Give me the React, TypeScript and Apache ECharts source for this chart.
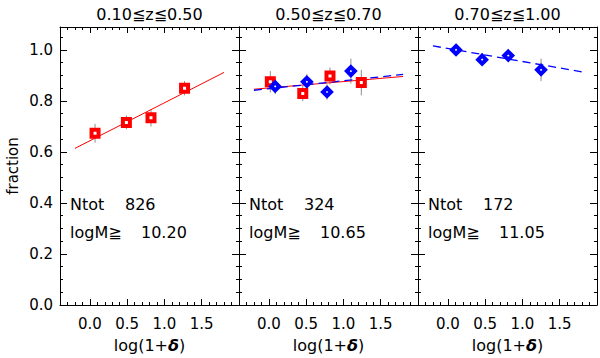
import { useEffect, useRef } from "react";
import * as echarts from "echarts";

const panelTitles = ["0.10≦z≦0.50", "0.50≦z≦0.70", "0.70≦z≦1.00"];
const nTotValues = ["826", "324", "172"];
const logMValues = ["10.20", "10.65", "11.05"];

const xMajorTicks = [0, 0.5, 1.0, 1.5];
const yMajorTicks = [0, 0.2, 0.4, 0.6, 0.8, 1.0];

// Panel 1 (red squares)
const p1RedX = [0.07, 0.49, 0.82, 1.27];
const p1RedY = [0.673, 0.716, 0.734, 0.85];
const p1RedErr = [0.037, 0.027, 0.034, 0.028];
const fitX = [-0.2, 1.8];
const p1RedFitY = [0.614, 0.912];

// Panel 2 (red squares + blue diamonds)
const p2RedX = [0.02, 0.455, 0.82, 1.24];
const p2RedY = [0.875, 0.829, 0.898, 0.872];
const p2RedErr = [0.042, 0.03, 0.033, 0.05];
const p2BlueX = [0.085, 0.51, 0.78, 1.1];
const p2BlueY = [0.857, 0.875, 0.835, 0.917];
const p2BlueErr = [0.03, 0.03, 0.03, 0.049];
const p2RedFitY = [0.846, 0.896];
const p2BlueFitY = [0.842, 0.904];

// Panel 3 (blue diamonds)
const p3BlueX = [0.11, 0.46, 0.81, 1.25];
const p3BlueY = [1.0, 0.962, 0.978, 0.922];
const p3BlueErr = [0.015, 0.025, 0.02, 0.044];
const p3BlueFitY = [1.016, 0.914];

const X_MIN = -0.4;
const X_MAX = 2.0;
const Y_MIN = 0;
const Y_MAX = 1.09;

const FONT = "DejaVu Sans";
const RED = "#ff0000";
const BLUE = "#0000ff";

function stepValues(from: number, to: number, step: number): number[] {
  const out: number[] = [];
  const n = Math.round((to - from) / step);
  for (let i = 0; i <= n; i++) out.push(Math.round((from + i * step) * 1000) / 1000);
  return out;
}
const xMinorTicks = stepValues(X_MIN, X_MAX, 0.1);
const yMinorTicks = stepValues(0, 1.05, 0.05);

const GRID_LEFT = 60;
const GRID_TOP = 27;
const GRID_W = 179;
const GRID_H = 278;

function xAxes(gi: number) {
  const base = (pos: string, ticks: number[], len: number, main: boolean, labels: boolean) => ({
    type: "value",
    gridIndex: gi,
    min: X_MIN,
    max: X_MAX,
    position: pos,
    axisLine: { show: main, onZero: false, lineStyle: { color: "#000", width: 1 } },
    axisTick: { show: true, inside: true, length: len, customValues: ticks, lineStyle: { color: "#000", width: 1 } },
    axisLabel: labels
      ? {
          show: true,
          customValues: xMajorTicks,
          formatter: (v: number) => v.toFixed(1),
          color: "#000",
          fontFamily: FONT,
          fontSize: 15,
          margin: 11,
        }
      : { show: false },
    splitLine: { show: false },
    ...(labels
      ? {
          name: "log(1+{d|δ})",
          nameLocation: "middle",
          nameGap: 32,
          nameTextStyle: {
            color: "#000",
            fontFamily: FONT,
            fontSize: 16,
            rich: { d: { fontFamily: FONT, fontSize: 16, fontStyle: "italic", fontWeight: "bold", color: "#000" } },
          },
        }
      : {}),
  });
  return [
    base("bottom", xMajorTicks, 6, true, true),
    base("bottom", xMinorTicks, 3, false, false),
    base("top", xMajorTicks, 6, true, false),
    base("top", xMinorTicks, 3, false, false),
  ];
}

function yAxes(gi: number) {
  const base = (pos: string, ticks: number[], len: number, main: boolean, labels: boolean) => ({
    type: "value",
    gridIndex: gi,
    min: Y_MIN,
    max: Y_MAX,
    position: pos,
    axisLine: { show: main, onZero: false, lineStyle: { color: "#000", width: 1 } },
    axisTick: { show: true, inside: true, length: len, customValues: ticks, lineStyle: { color: "#000", width: 1 } },
    axisLabel: labels
      ? {
          show: true,
          customValues: yMajorTicks,
          formatter: (v: number) => v.toFixed(1),
          color: "#000",
          fontFamily: FONT,
          fontSize: 15,
          margin: 7,
        }
      : { show: false },
    splitLine: { show: false },
    ...(labels
      ? {
          name: "fraction",
          nameLocation: "middle",
          nameGap: 40,
          nameTextStyle: { color: "#000", fontFamily: FONT, fontSize: 15 },
        }
      : {}),
  });
  const showLabels = gi === 0;
  return [
    base("left", yMajorTicks, 7, true, showLabels),
    base("left", yMinorTicks, 3, false, false),
    base("right", yMajorTicks, 7, true, false),
    base("right", yMinorTicks, 3, false, false),
  ];
}

function errorBars(xs: number[], ys: number[], es: number[], gi: number) {
  return {
    type: "custom",
    xAxisIndex: gi * 4,
    yAxisIndex: gi * 4,
    silent: true,
    z: 1,
    data: xs.map((x, i) => [x, ys[i] - es[i], ys[i] + es[i]]),
    encode: { x: 0, y: [1, 2] },
    renderItem: (_p: any, api: any) => {
      const a = api.coord([api.value(0), api.value(1)]);
      const b = api.coord([api.value(0), api.value(2)]);
      return {
        type: "line",
        shape: { x1: a[0], y1: a[1], x2: b[0], y2: b[1] },
        style: { stroke: "#8c8c8c", lineWidth: 1 },
      };
    },
  };
}

function fitLine(ys: number[], gi: number, color: string, dashed: boolean) {
  return {
    type: "line",
    xAxisIndex: gi * 4,
    yAxisIndex: gi * 4,
    data: fitX.map((x, i) => [x, ys[i]]),
    showSymbol: false,
    silent: true,
    z: 2,
    lineStyle: { color, width: dashed ? 1.3 : 1, type: dashed ? [8, 5] : "solid" },
  };
}

function redSquares(xs: number[], ys: number[], gi: number) {
  return {
    type: "scatter",
    xAxisIndex: gi * 4,
    yAxisIndex: gi * 4,
    data: xs.map((x, i) => [x, ys[i]]),
    symbol: "rect",
    symbolSize: 7,
    z: 3,
    itemStyle: { color: "#ffffff", borderColor: RED, borderWidth: 4, opacity: 1 },
  };
}

function blueDiamonds(xs: number[], ys: number[], gi: number) {
  return {
    type: "scatter",
    xAxisIndex: gi * 4,
    yAxisIndex: gi * 4,
    data: xs.map((x, i) => [x, ys[i]]),
    symbol: "diamond",
    symbolSize: 8,
    z: 3,
    itemStyle: { color: "#ffffff", borderColor: BLUE, borderWidth: 4, opacity: 1 },
  };
}

export default function App() {
  const ref = useRef<HTMLDivElement>(null);
  useEffect(() => {
    if (!ref.current) return;
    const chart = echarts.init(ref.current, undefined, { renderer: "svg" });
    const grids = [0, 1, 2].map((i) => ({
      left: GRID_LEFT + i * GRID_W,
      top: GRID_TOP,
      width: GRID_W,
      height: GRID_H,
      containLabel: false,
    }));
    const graphics: any[] = [];
    [0, 1, 2].forEach((i) => {
      const left = GRID_LEFT + i * GRID_W;
      graphics.push({
        type: "text",
        x: left + GRID_W / 2,
        y: 14,
        style: { text: panelTitles[i], fill: "#000", font: `16px "${FONT}"`, textAlign: "center", textVerticalAlign: "middle" },
      });
      graphics.push({
        type: "text",
        x: left + 10,
        y: 204,
        style: { text: "Ntot", fill: "#000", font: `16px "${FONT}"`, textAlign: "left", textVerticalAlign: "middle" },
      });
      graphics.push({
        type: "text",
        x: left + 65,
        y: 204,
        style: { text: nTotValues[i], fill: "#000", font: `16px "${FONT}"`, textAlign: "left", textVerticalAlign: "middle" },
      });
      graphics.push({
        type: "text",
        x: left + 10,
        y: 232,
        style: { text: "logM≧", fill: "#000", font: `16px "${FONT}"`, textAlign: "left", textVerticalAlign: "middle" },
      });
      graphics.push({
        type: "text",
        x: left + 81,
        y: 232,
        style: { text: logMValues[i], fill: "#000", font: `16px "${FONT}"`, textAlign: "left", textVerticalAlign: "middle" },
      });
    });

    chart.setOption({
      animation: false,
      backgroundColor: "#ffffff",
      grid: grids,
      xAxis: [...xAxes(0), ...xAxes(1), ...xAxes(2)],
      yAxis: [...yAxes(0), ...yAxes(1), ...yAxes(2)],
      graphic: graphics,
      series: [
        errorBars(p1RedX, p1RedY, p1RedErr, 0),
        fitLine(p1RedFitY, 0, RED, false),
        redSquares(p1RedX, p1RedY, 0),

        errorBars(p2RedX, p2RedY, p2RedErr, 1),
        errorBars(p2BlueX, p2BlueY, p2BlueErr, 1),
        fitLine(p2RedFitY, 1, RED, false),
        fitLine(p2BlueFitY, 1, BLUE, true),
        redSquares(p2RedX, p2RedY, 1),
        blueDiamonds(p2BlueX, p2BlueY, 1),

        errorBars(p3BlueX, p3BlueY, p3BlueErr, 2),
        fitLine(p3BlueFitY, 2, BLUE, true),
        blueDiamonds(p3BlueX, p3BlueY, 2),
      ],
    });
    return () => chart.dispose();
  }, []);
  return (
    <div
      ref={ref}
      style={{ position: "fixed", left: 0, top: 0, width: 600, height: 358, background: "#fff" }}
    />
  );
}
